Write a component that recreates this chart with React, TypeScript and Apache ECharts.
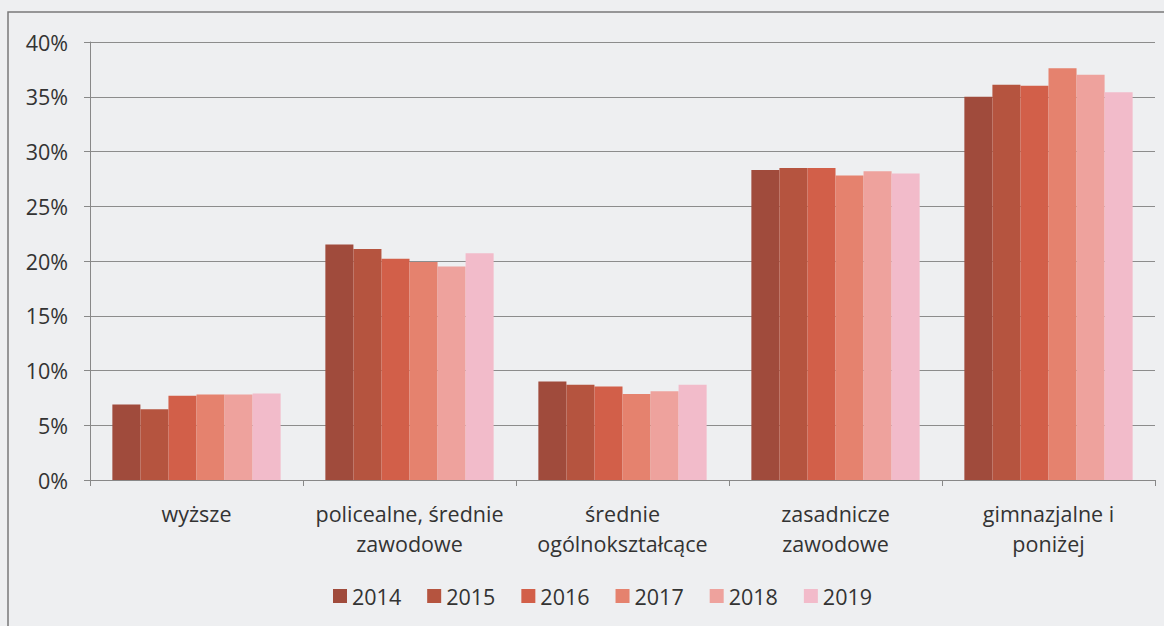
import React, { useEffect, useRef } from "react";
import * as echarts from "echarts";

const categories = [
  "wyższe",
  "policealne, średnie\nzawodowe",
  "średnie\nogólnokształcące",
  "zasadnicze\nzawodowe",
  "gimnazjalne i\nponiżej",
];
const years = ["2014", "2015", "2016", "2017", "2018", "2019"];
const v2014 = [6.9, 21.5, 9.0, 28.3, 35.0];
const v2015 = [6.45, 21.1, 8.7, 28.5, 36.1];
const v2016 = [7.7, 20.2, 8.55, 28.5, 36.0];
const v2017 = [7.8, 19.9, 7.85, 27.8, 37.6];
const v2018 = [7.8, 19.5, 8.1, 28.2, 37.0];
const v2019 = [7.9, 20.7, 8.7, 28.0, 35.4];
const seriesValues = [v2014, v2015, v2016, v2017, v2018, v2019];
const colors = ["#a04b3c", "#b5543f", "#d25f49", "#e5826e", "#eea29d", "#f2bbca"];
const yTicks = [0, 5, 10, 15, 20, 25, 30, 35, 40];

const FONT = "'Open Sans', Lato, sans-serif";
const FS = 21.5;

export default function App() {
  const ref = useRef<HTMLDivElement>(null);
  useEffect(() => {
    if (!ref.current) return;
    const chart = echarts.init(ref.current, undefined, { renderer: "svg" });
    chart.setOption({
      animation: false,
      backgroundColor: "#eeeff1",
      textStyle: { fontFamily: FONT },
      graphic: [
        {
          type: "rect",
          shape: { x: 8, y: 12, width: 1200, height: 700 },
          style: { fill: "none", stroke: "#7a7a7a", lineWidth: 1.5 },
          silent: true,
        },
      ],
      grid: { left: 90, right: 9, top: 42, bottom: 146, containLabel: false },
      legend: {
        data: years,
        bottom: 14,
        left: 328,
        itemWidth: 14,
        itemHeight: 14,
        itemGap: 26,
        icon: "rect",
        textStyle: { fontSize: FS, color: "#333", fontFamily: FONT },
      },
      xAxis: {
        type: "category",
        data: categories,
        axisLine: { show: true, lineStyle: { color: "#888", width: 1 } },
        axisTick: { show: true, length: 6, lineStyle: { color: "#888" } },
        axisLabel: {
          margin: 18,
          fontSize: FS,
          color: "#333",
          lineHeight: 30,
          fontFamily: FONT,
          interval: 0,
        },
      },
      yAxis: {
        type: "value",
        min: 0,
        max: 40,
        interval: 5,
        axisLine: { show: true, lineStyle: { color: "#888", width: 1 } },
        axisTick: { show: true, length: 6, lineStyle: { color: "#888" } },
        splitLine: { show: true, lineStyle: { color: "#8c8c8c", width: 1 } },
        axisLabel: {
          margin: 22,
          fontSize: FS,
          color: "#333",
          fontFamily: FONT,
          formatter: (v: number) => (yTicks.includes(v) ? v + "%" : ""),
        },
      },
      series: years.map((y, i) => ({
        name: y,
        type: "bar",
        data: seriesValues[i],
        barGap: "0%",
        barCategoryGap: "21%",
        itemStyle: { color: colors[i] },
      })),
    });
    return () => chart.dispose();
  }, []);
  return (
    <div
      ref={ref}
      style={{ position: "fixed", left: 0, top: 0, width: 1164, height: 626 }}
    />
  );
}
